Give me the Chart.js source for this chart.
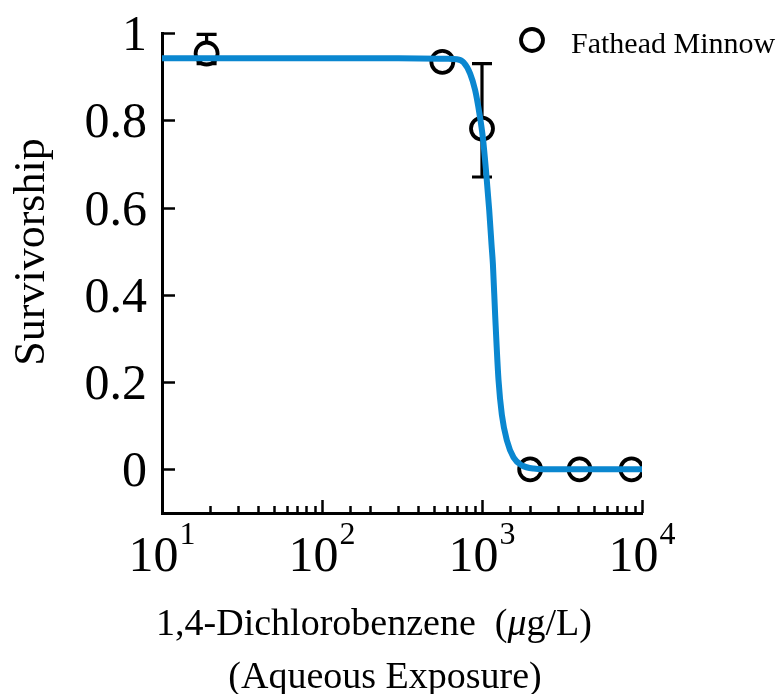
<!DOCTYPE html>
<html>
<head>
<meta charset="utf-8">
<script src="https://cdn.jsdelivr.net/npm/chart.js@4.4.1/dist/chart.umd.min.js"></script>
<style>
  html, body { margin: 0; padding: 0; background: #ffffff; }
  #wrap { width: 781px; height: 694px; }
</style>
</head>
<body>
<div id="wrap"><canvas id="c" width="781" height="694"></canvas></div>
<script>
// ---- data ----
const concentrations = [19, 565, 1000, 2000, 4070, 8600];      // µg/L
const survival       = [0.953, 0.934, 0.781, 0, 0, 0];
const errLow         = [0.930, null, 0.670, null, null, null];
const errHigh        = [0.997, null, 0.930, null, null, null];

const fitConc = [10, 300, 600, 697, 766, 843, 906, 964, 1013, 1062, 1109, 1147, 1170, 1209, 1268, 1331, 1431, 1575, 1776, 2099, 3000, 10000];
const fitSurv = [0.942, 0.942, 0.941, 0.940, 0.933, 0.907, 0.869, 0.815, 0.760, 0.680, 0.595, 0.515, 0.470, 0.352, 0.205, 0.125, 0.066, 0.027, 0.009, 0.002, 0, 0];

const yTickValues  = [0, 0.2, 0.4, 0.6, 0.8, 1];
const yTickLabels  = ['0', '0.2', '0.4', '0.6', '0.8', '1'];
const xTickExponents = [1, 2, 3, 4];

const seriesLabel = 'Fathead Minnow';
const yTitle = 'Survivorship';
const xTitleLine1 = '1,4-Dichlorobenzene  (';
const xTitleMu = 'μ';
const xTitleLine1End = 'g/L)';
const xTitleLine2 = '(Aqueous Exposure)';

// ---- styling ----
const SERIF = "'Liberation Serif', 'Times New Roman', serif";
const BLUE = '#0a87d0';

const decorPlugin = {
  id: 'decor',
  beforeDatasetsDraw(chart) {
    const ctx = chart.ctx;
    const xs = chart.scales.x, ys = chart.scales.y;
    ctx.save();
    ctx.strokeStyle = '#000';
    ctx.lineWidth = 3.2;
    const capHalf = 10;
    for (let i = 0; i < concentrations.length; i++) {
      if (errLow[i] == null) continue;
      const px = xs.getPixelForValue(concentrations[i]);
      const pLo = ys.getPixelForValue(errLow[i]);
      const pHi = ys.getPixelForValue(errHigh[i]);
      ctx.beginPath();
      ctx.moveTo(px, pLo); ctx.lineTo(px, pHi);
      ctx.moveTo(px - capHalf, pLo); ctx.lineTo(px + capHalf, pLo);
      ctx.moveTo(px - capHalf, pHi); ctx.lineTo(px + capHalf, pHi);
      ctx.stroke();
    }
    ctx.restore();
  },
  afterDraw(chart) {
    const ctx = chart.ctx;
    const xs = chart.scales.x, ys = chart.scales.y;
    const area = chart.chartArea;
    ctx.save();
    ctx.strokeStyle = '#000';
    ctx.fillStyle = '#000';
    ctx.lineWidth = 2.5;
    // x ticks (inward)
    xs.ticks.forEach(t => {
      const v = t.value;
      const lg = Math.log10(v);
      const major = Math.abs(lg - Math.round(lg)) < 1e-9;
      const px = Math.round(xs.getPixelForValue(v)) + 0.5;
      const len = major ? 13 : 7;
      ctx.beginPath();
      ctx.moveTo(px, area.bottom);
      ctx.lineTo(px, area.bottom - len);
      ctx.stroke();
    });
    // y ticks (inward)
    ys.ticks.forEach(t => {
      const py = Math.round(ys.getPixelForValue(t.value)) + 0.5;
      ctx.beginPath();
      ctx.moveTo(area.left, py);
      ctx.lineTo(area.left + 13, py);
      ctx.stroke();
    });
    // y tick labels
    ctx.font = '50px ' + SERIF;
    ctx.textAlign = 'right';
    ctx.textBaseline = 'alphabetic';
    yTickValues.forEach((v, i) => {
      const py = ys.getPixelForValue(v);
      ctx.fillText(yTickLabels[i], area.left - 15, py + 17);
    });
    // x tick labels 10^n
    xTickExponents.forEach(e => {
      const px = xs.getPixelForValue(Math.pow(10, e));
      ctx.font = '50px ' + SERIF;
      const w1 = ctx.measureText('10').width;
      ctx.font = '32px ' + SERIF;
      const w2 = ctx.measureText(String(e)).width;
      const gap = 1;
      const start = px - (w1 + gap + w2) / 2;
      ctx.textAlign = 'left';
      ctx.font = '50px ' + SERIF;
      ctx.fillText('10', start, area.bottom + 58);
      ctx.font = '32px ' + SERIF;
      ctx.fillText(String(e), start + w1 + gap, area.bottom + 31);
    });
    // y title
    ctx.save();
    ctx.translate(44, 252);
    ctx.rotate(-Math.PI / 2);
    ctx.font = '44px ' + SERIF;
    ctx.textAlign = 'center';
    ctx.textBaseline = 'alphabetic';
    ctx.fillText(yTitle, 0, 0);
    ctx.restore();
    // x title line 1 with italic mu
    ctx.textAlign = 'left';
    const tf = '38px ' + SERIF;
    ctx.font = tf;
    const a = ctx.measureText(xTitleLine1).width;
    const c = ctx.measureText(xTitleLine1End).width;
    ctx.font = 'italic ' + tf;
    const b = ctx.measureText(xTitleMu).width;
    let sx = 374 - (a + b + c) / 2;
    ctx.font = tf;
    ctx.fillText(xTitleLine1, sx, 635);
    ctx.font = 'italic ' + tf;
    ctx.fillText(xTitleMu, sx + a, 635);
    ctx.font = tf;
    ctx.fillText(xTitleLine1End, sx + a + b, 635);
    // x title line 2
    ctx.textAlign = 'center';
    ctx.fillText(xTitleLine2, 385, 688);
    // legend
    const ds = chart.data.datasets[1];
    ctx.beginPath();
    ctx.lineWidth = ds.borderWidth;
    ctx.strokeStyle = ds.borderColor;
    ctx.fillStyle = ds.backgroundColor;
    ctx.arc(532, 40, ds.pointRadius, 0, Math.PI * 2);
    ctx.fill();
    ctx.stroke();
    ctx.fillStyle = '#000';
    ctx.font = '30px ' + SERIF;
    ctx.textAlign = 'left';
    ctx.fillText(ds.label, 571, 53);
    ctx.restore();
  }
};

new Chart(document.getElementById('c'), {
  type: 'scatter',
  data: {
    datasets: [
      {
        label: 'fit',
        data: fitConc.map((x, i) => ({ x: x, y: fitSurv[i] })),
        showLine: true,
        borderColor: BLUE,
        borderWidth: 6,
        pointRadius: 0,
        fill: false,
        cubicInterpolationMode: 'monotone'
      },
      {
        label: seriesLabel,
        data: concentrations.map((x, i) => ({ x: x, y: survival[i] })),
        showLine: false,
        pointRadius: 11,
        borderWidth: 3.8,
        borderColor: '#000000',
        backgroundColor: '#ffffff'
      }
    ]
  },
  options: {
    responsive: false,
    animation: false,
    events: [],
    layout: { padding: { left: 162, right: 139, top: 33, bottom: 181 } },
    plugins: { legend: { display: false }, tooltip: { enabled: false } },
    scales: {
      x: {
        type: 'logarithmic',
        min: 10, max: 10000,
        grid: { display: false, drawTicks: false, tickLength: 0 },
        border: { display: true, color: '#000', width: 3 },
        ticks: { display: false }
      },
      y: {
        type: 'linear',
        min: -0.1, max: 1,
        afterBuildTicks: (axis) => { axis.ticks = yTickValues.map(v => ({ value: v })); },
        grid: { display: false, drawTicks: false, tickLength: 0 },
        border: { display: true, color: '#000', width: 3 },
        ticks: { display: false }
      }
    }
  },
  plugins: [decorPlugin]
});
</script>
</body>
</html>
